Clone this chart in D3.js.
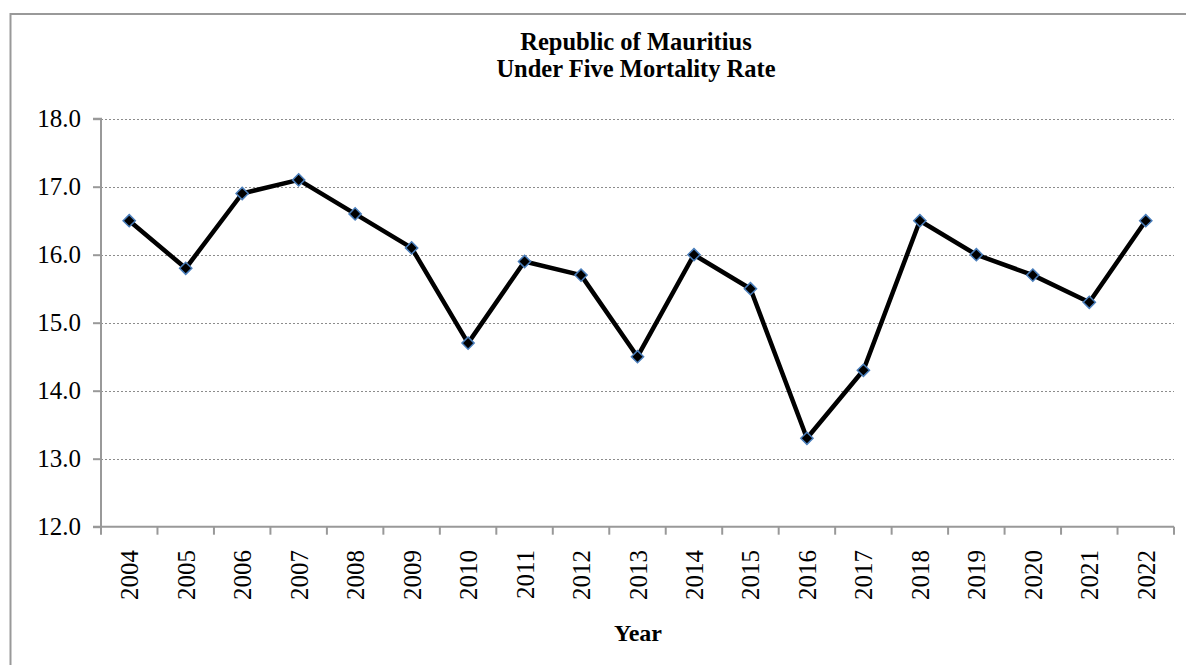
<!DOCTYPE html>
<html>
<head>
<meta charset="utf-8">
<script src="https://cdn.jsdelivr.net/npm/d3@7"></script>
<style>
  html, body { margin: 0; padding: 0; background: #fff; }
  svg { display: block; }
  svg text { font-family: "Times New Roman", "Liberation Serif", Tinos, "DejaVu Serif", serif !important; fill: #000; }
</style>
</head>
<body>
<script>
const years = ["2004","2005","2006","2007","2008","2009","2010","2011","2012","2013","2014","2015","2016","2017","2018","2019","2020","2021","2022"];
const rates = [16.5,15.8,16.9,17.1,16.6,16.1,14.7,15.9,15.7,14.5,16.0,15.5,13.3,14.3,16.5,16.0,15.7,15.3,16.5];
const yTicks = [12,13,14,15,16,17,18];
const titleLines = ["Republic of Mauritius","Under Five Mortality Rate"];
const xTitle = "Year";

const W = 1186, H = 665;
const m = {left: 101, right: 1174, top: 118.7, bottom: 526.7};
const FONT = '"Times New Roman", "Liberation Serif", serif';

const svg = d3.select("body").append("svg").attr("width", W).attr("height", H)
  .attr("font-family", FONT);

// outer frame (top and left edges visible)
svg.append("path")
  .attr("d", `M10.5,${H} L10.5,14 L${W},14`)
  .attr("fill", "none").attr("stroke", "#999").attr("stroke-width", 2);

const x = d3.scaleBand().domain(years).range([m.left, m.right]).padding(0);
const y = d3.scaleLinear().domain([12, 18]).range([m.bottom, m.top]);

// gridlines
svg.append("g").selectAll("line").data(yTicks.filter(t => t > 12)).join("line")
  .attr("x1", m.left).attr("x2", m.right)
  .attr("y1", d => Math.round(y(d)) + 0.5).attr("y2", d => Math.round(y(d)) + 0.5)
  .attr("stroke", "#8c8c8c").attr("stroke-width", 1).attr("stroke-dasharray", "2,2");

// y axis
const yAxis = d3.axisLeft(y).tickValues(yTicks).tickFormat(d3.format(".1f")).tickSize(8).tickPadding(12);
const gy = svg.append("g").attr("transform", `translate(${m.left},0)`).call(yAxis)
  .attr("font-family", FONT).attr("font-size", 25);
gy.select(".domain").attr("stroke", "#999").attr("stroke-width", 2).attr("d", `M-8,${m.top}H0V${m.bottom}H-8`);
gy.selectAll(".tick line").attr("stroke", "#999").attr("stroke-width", 2);
gy.selectAll(".tick text").attr("fill", "#000");

// x axis
const gx = svg.append("g").attr("transform", `translate(0,${m.bottom})`);
gx.append("line").attr("x1", m.left).attr("x2", m.right).attr("y1", 0).attr("y2", 0)
  .attr("stroke", "#999").attr("stroke-width", 2);
const bounds = years.map(d => x(d)).concat([x(years[years.length-1]) + x.bandwidth()]);
gx.selectAll("line.tk").data(bounds).join("line").attr("class", "tk")
  .attr("x1", d => d).attr("x2", d => d).attr("y1", 0).attr("y2", 8)
  .attr("stroke", "#999").attr("stroke-width", 2);
gx.selectAll("text.lbl").data(years).join("text").attr("class", "lbl")
  .attr("transform", d => `translate(${x(d) + x.bandwidth()/2 + 9},${550 - m.bottom}) rotate(-90)`)
  .attr("text-anchor", "end")
  .attr("font-size", 25)
  .text(d => d);

// line
const line = d3.line().x((d, i) => x(years[i]) + x.bandwidth()/2).y(d => y(d));
svg.append("path").datum(rates).attr("d", line)
  .attr("fill", "none").attr("stroke", "#000").attr("stroke-width", 4.5).attr("stroke-linejoin", "round");

// markers
const sym = d3.symbol().type(d3.symbolDiamond2).size(95);
svg.append("g").selectAll("path").data(rates).join("path")
  .attr("transform", (d, i) => `translate(${x(years[i]) + x.bandwidth()/2},${y(d)})`)
  .attr("d", sym)
  .attr("fill", "#000").attr("stroke", "#4a7ebb").attr("stroke-width", 1.5);

// title
svg.append("g").selectAll("text").data(titleLines).join("text")
  .attr("x", 636).attr("y", (d, i) => 50 + i * 27.3)
  .attr("text-anchor", "middle")
  .attr("font-size", 24.5).attr("font-weight", "bold")
  .text(d => d);

// x axis title
svg.append("text").attr("x", 638).attr("y", 641).attr("text-anchor", "middle")
  .attr("font-size", 24).attr("font-weight", "bold").text(xTitle);
</script>
</body>
</html>
